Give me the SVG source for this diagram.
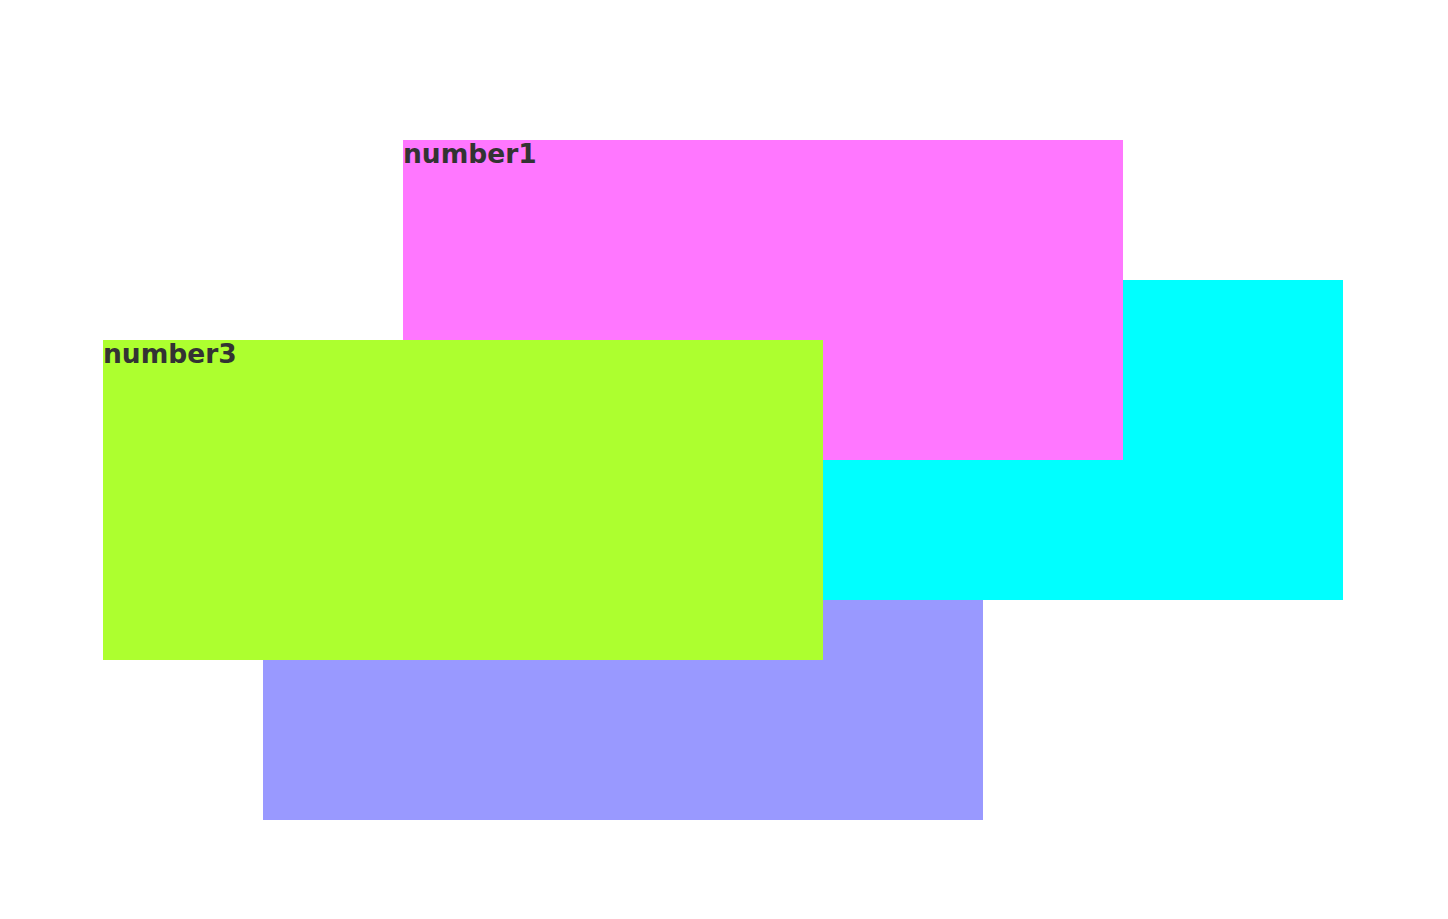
<svg xmlns="http://www.w3.org/2000/svg" width="1448" height="919" viewBox="0 0 1448 919">
<style>
.lbl{font-family:"DejaVu Sans",sans-serif;font-weight:bold;font-size:26.5px;fill:#333333}
</style>
<rect width="1448" height="919" fill="#ffffff"/>
<g id="node4"><rect x="263" y="500" width="720" height="320" fill="#9999ff"/></g>
<g id="node2"><rect x="623" y="280" width="720" height="320" fill="#00ffff"/></g>
<g id="node1"><rect x="403" y="140" width="720" height="320" fill="#ff77ff"/><text class="lbl" x="403" y="163">number1</text></g>
<g id="node3"><rect x="103" y="340" width="720" height="320" fill="#adff2f"/><text class="lbl" x="103" y="363">number3</text></g>
<g id="connectors"></g>
</svg>
